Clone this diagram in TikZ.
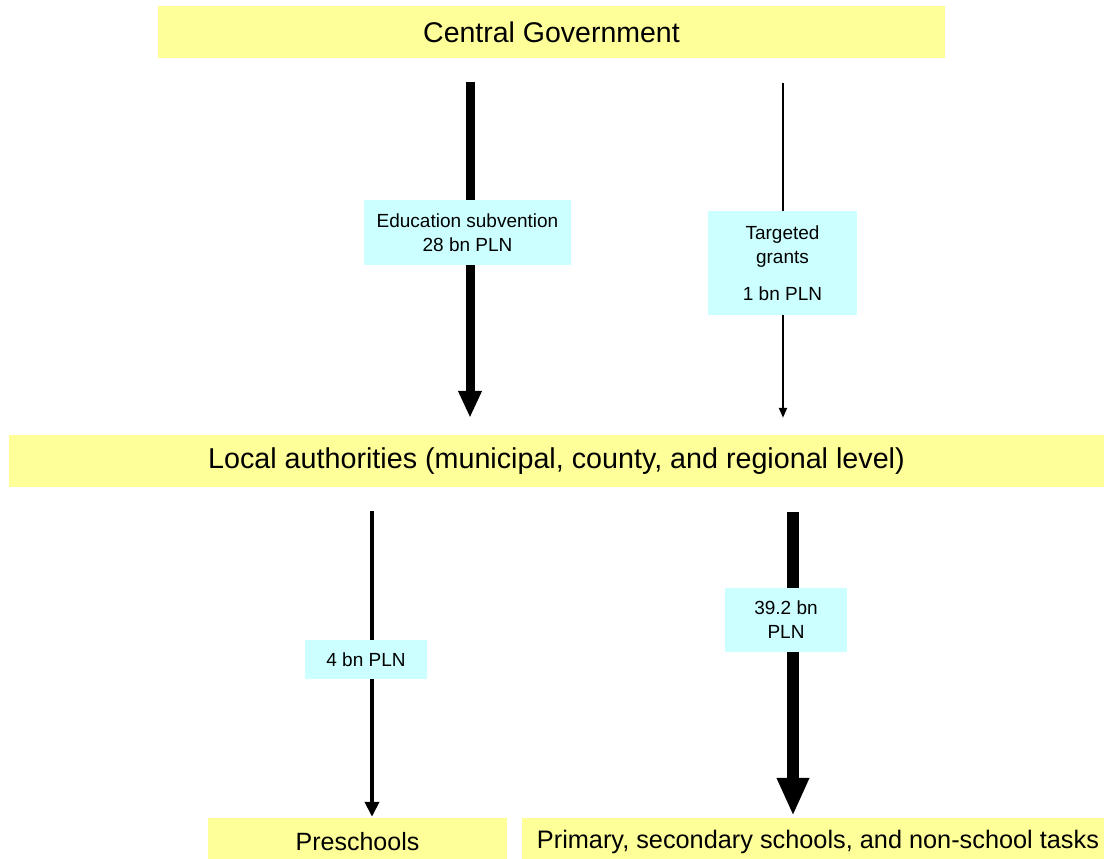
\documentclass[tikz,border=0pt]{standalone}
\usepackage{fontspec}
\setmainfont{Liberation Sans}
\usetikzlibrary{arrows.meta}
\definecolor{boxyellow}{RGB}{255,255,153}
\definecolor{boxcyan}{RGB}{204,255,255}
\tikzset{
    level/.style={fill=boxyellow, inner sep=0pt, minimum height=52pt},
    amount/.style={fill=boxcyan, inner sep=0pt, align=center, font=\fontsize{19}{24}\selectfont},
}

\begin{document}
\begin{tikzpicture}[x=1pt,y=-1pt]
            \useasboundingbox (0,0) rectangle (1104,859);
            \node[level, minimum width=787pt, font=\fontsize{28.5}{34}\selectfont] (cg) at (551.5,32) {Central Government};
            \node[level, minimum width=1095pt, font=\fontsize{28.7}{34}\selectfont] (la) at (556.5,461) {Local authorities (municipal, county, and regional level)};
            \node[level, minimum width=299pt, minimum height=47pt, font=\fontsize{25}{30}\selectfont] (ps) at (357.5,841.5) {Preschools};
            \node[level, minimum width=592pt, minimum height=47pt, font=\fontsize{25.3}{30}\selectfont] (ss) at (818,841.5) {Primary, secondary schools, and non-school tasks};
            \coordinate (c1) at (470,0);
            \coordinate (c2) at (783,0);
            \coordinate (c3) at (372,0);
            \coordinate (c4) at (793,0);
            \draw [line width=9pt,-{Triangle[width=22pt,length=27pt]},shorten <=24pt,shorten >=17pt] (cg.south -| c1) -- (la.north -| c1);
            \draw [line width=2pt,-{Triangle[width=8pt,length=10pt]},shorten <=25pt,shorten >=17pt] (cg.south -| c2) -- (la.north -| c2);
            \draw [line width=4.5pt,-{Triangle[width=14pt,length=15pt]},shorten <=24pt,shorten >=1pt] (la.south -| c3) -- (ps.north -| c3);
            \draw [line width=12pt,-{Triangle[width=30pt,length=38pt]},shorten <=25pt,shorten >=2pt] (la.south -| c4) -- (ss.north -| c4);
            \node[amount, minimum width=207pt, minimum height=65pt] (l1) at (467.5,232.5) {Education subvention\\28 bn PLN};
            \node[amount, minimum width=149pt, minimum height=104pt] (l2) at (782.5,263) {Targeted\\grants\\[13pt]1 bn PLN};
            \node[amount, minimum width=122pt, minimum height=39pt] (l3) at (366,659.5) {4 bn PLN};
            \node[amount, minimum width=122pt, minimum height=64pt] (l4) at (786,620) {39.2 bn\\PLN};
\end{tikzpicture}
\end{document}
